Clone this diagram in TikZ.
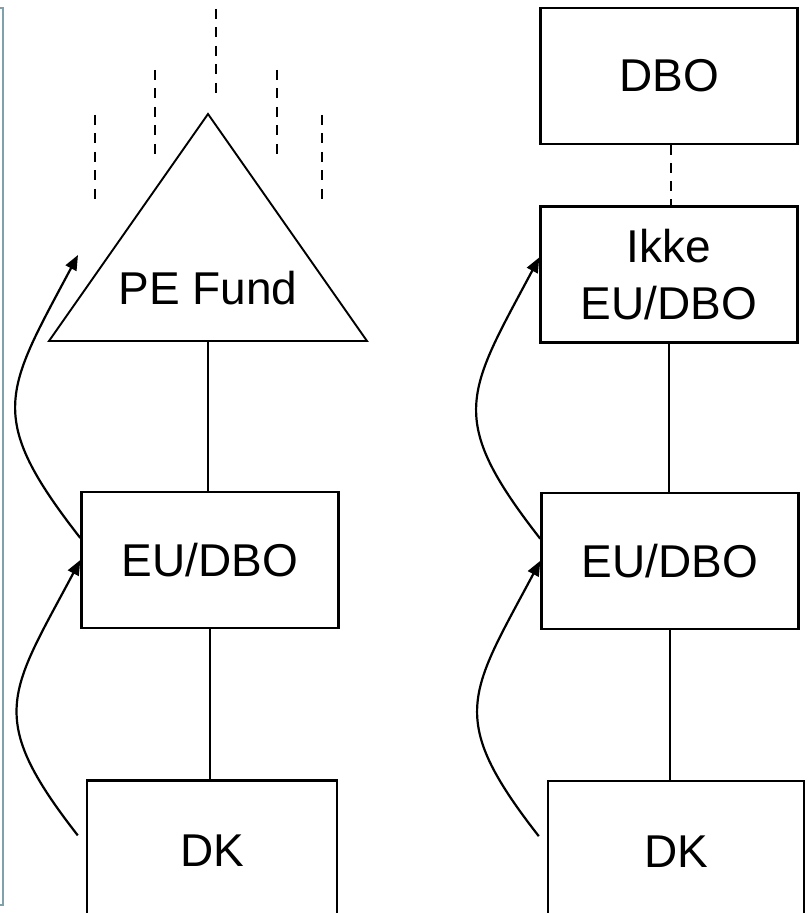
\documentclass[tikz,border=0pt]{standalone}
\usepackage{fontspec}
\setmainfont{Liberation Sans}
\usetikzlibrary{positioning, arrows.meta, calc}
\definecolor{framegray}{RGB}{128,160,172}

\begin{document}
\begin{tikzpicture}[x=1pt, y=1pt, font=\fontsize{46}{57}\selectfont,
entity/.style={rectangle, draw=black, line width=2.4pt,
minimum width=257pt, minimum height=136pt, inner sep=0pt, align=center},
arrow/.style={-{Triangle[length=15pt,width=12pt]}, line width=2.2pt,
out=128, in=-118, looseness=1.4},
link/.style={line width=2pt},
dashlink/.style={line width=2.4pt, dash pattern=on 10pt off 8.5pt}
]
\useasboundingbox (0,0) rectangle (808,913);

% Frame edge
\draw[framegray, line width=2pt] (-5,905) rectangle (2.5,8);

% PE fund
\node[anchor=base] (fund) at (208,608) {PE Fund};
\coordinate (apex) at (208,799);
\coordinate (fundbase) at (208,572);
\coordinate (fundin) at (78,658);
\draw[line width=1.9pt, line join=miter] (49,572) -- (apex) -- (367,572) -- cycle;

% Dashes over the fund
\foreach \x/\y in {216/904, 155/843, 277/843, 95/798, 322/798}
  \draw[dashlink] (\x,\y) -- ++(0,-85);

% Left column
\node[entity] (leu) at (210,353) {EU/DBO};
\node[entity, minimum width=250pt, minimum height=140pt,
below=150pt of leu, xshift=2pt] (ldk) {DK};

% Right column
\node[entity] (dbo) at (669,837) {DBO};
\node[entity, below=60pt of dbo] (rikke) {Ikke\\EU/DBO};
\node[entity, below=148pt of rikke, xshift=1pt] (reu) {EU/DBO};
\node[entity, minimum width=256pt, minimum height=140pt,
below=150pt of reu, xshift=6pt] (rdk) {DK};

% Links
\draw[link] (fundbase) -- (fundbase |- leu.north);
\draw[link] (leu.south) -- (leu.south |- ldk.north);
\draw[dashlink, dash pattern=on 10pt off 8pt] ([xshift=2pt]dbo.south) -- ([xshift=2pt]dbo.south |- rikke.north);
\draw[link] (rikke.south) -- (rikke.south |- reu.north);
\draw[link] (reu.south) -- (reu.south |- rdk.north);

% Arrows
\draw[arrow] ([xshift=-8pt,yshift=15pt]ldk.west) to (leu.west);
\draw[arrow] ([yshift=22pt]leu.west) to (fundin);
\draw[arrow] ([xshift=-8pt,yshift=15pt]rdk.west) to (reu.west);
\draw[arrow] ([yshift=22pt]reu.west) to ([yshift=17pt]rikke.west);

\end{tikzpicture}
\end{document}
